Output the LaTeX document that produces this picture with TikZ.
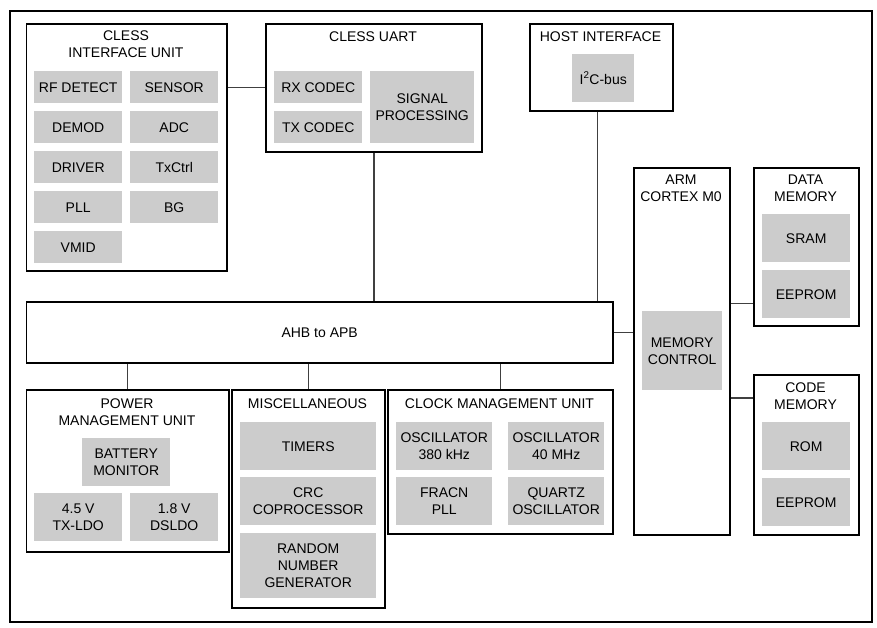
\documentclass[tikz,border=0pt]{standalone}
\usepackage{fontspec}
\setmainfont{Liberation Sans}
\usetikzlibrary{positioning,calc}
\tikzset{
  unit/.style={draw=black, line width=1.8pt, anchor=north west, inner sep=0pt, align=center, font=\fontsize{14}{17}\selectfont},
  cell/.style={fill=black!20, anchor=north west, align=center, inner sep=0pt, font=\fontsize{14}{17}\selectfont},
  title/.style={align=center, inner sep=0pt, font=\fontsize{14}{17}\selectfont},
  link/.style={line width=1.2pt, draw=black!75}
}

\begin{document}
\begin{tikzpicture}[x=1pt, y=-1pt]
    \useasboundingbox (0,0) rectangle (877,627);
    % Outer frame
    \draw[line width=2pt] (9.5,11) rectangle (872,622);

    % CLESS interface unit
    \node[unit, minimum width=200.5, minimum height=247] (iu) at (25.5,23) {};
    \node[title] (iuT) at (126,44.5) {CLESS\\INTERFACE UNIT};
    \node[cell, minimum width=88, minimum height=32] (rf) at (34,71) {RF DETECT};
    \node[cell, minimum width=88, minimum height=32] (sensor) at (130,71) {SENSOR};
    \node[cell, minimum width=88, minimum height=32] (demod) at (34,111) {DEMOD};
    \node[cell, minimum width=88, minimum height=32] (adc) at (130,111) {ADC};
    \node[cell, minimum width=88, minimum height=32] (driver) at (34,151) {DRIVER};
    \node[cell, minimum width=88, minimum height=32] (txctrl) at (130,151) {TxCtrl};
    \node[cell, minimum width=88, minimum height=32] (pll) at (34,191) {PLL};
    \node[cell, minimum width=88, minimum height=32] (bg) at (130,191) {BG};
    \node[cell, minimum width=88, minimum height=32] (vmid) at (34,231) {VMID};

    % CLESS UART
    \node[unit, minimum width=216, minimum height=128] (uart) at (265,23) {};
    \node[title] (uartT) at (373,37) {CLESS UART};
    \node[cell, minimum width=88, minimum height=32] (rx) at (274,71) {RX CODEC};
    \node[cell, minimum width=88, minimum height=32] (tx) at (274,111) {TX CODEC};
    \node[cell, minimum width=104, minimum height=72] (sig) at (370,71) {SIGNAL\\PROCESSING};

    % Host interface
    \node[unit, minimum width=143, minimum height=87] (host) at (529,23) {};
    \node[title] (hostT) at (600.5,37) {HOST INTERFACE};
    \node[cell, minimum width=62, minimum height=48] (i2c) at (572,54) {I\textsuperscript{2}C-bus};

    % Bus bridge
    \node[unit, minimum width=586.5, minimum height=61] (ahb) at (25.5,301) {AHB to APB};

    % ARM core and memories
    \node[unit, minimum width=96, minimum height=367] (arm) at (633,167) {};
    \node[title] (armT) at (681,188) {ARM\\CORTEX M0};
    \node[cell, minimum width=80, minimum height=79] (memctrl) at (642,311) {MEMORY\\CONTROL};
    \node[unit, minimum width=105, minimum height=158] (data) at (753,167) {};
    \node[title] (dataT) at (805.5,188) {DATA\\MEMORY};
    \node[cell, minimum width=88, minimum height=48] (sram) at (762,214) {SRAM};
    \node[cell, minimum width=88, minimum height=48] (deeprom) at (762,270) {EEPROM};
    \node[unit, minimum width=105, minimum height=160] (code) at (753,374) {};
    \node[title] (codeT) at (805.5,396.5) {CODE\\MEMORY};
    \node[cell, minimum width=88, minimum height=48] (rom) at (762,422) {ROM};
    \node[cell, minimum width=88, minimum height=48] (ceeprom) at (762,478) {EEPROM};

    % Power management unit
    \node[unit, minimum width=202.5, minimum height=162] (pmu) at (25.5,389) {};
    \node[title] (pmuT) at (127,412) {POWER\\MANAGEMENT UNIT};
    \node[cell, minimum width=88, minimum height=48] (bat) at (82,438) {BATTERY\\MONITOR};
    \node[cell, minimum width=88, minimum height=48] (txldo) at (34,493) {4.5 V\\TX-LDO};
    \node[cell, minimum width=88, minimum height=48] (dsldo) at (130,493) {1.8 V\\DSLDO};

    % Miscellaneous
    \node[unit, minimum width=153, minimum height=218] (misc) at (231,389) {};
    \node[title] (miscT) at (307.5,404) {MISCELLANEOUS};
    \node[cell, minimum width=136, minimum height=48] (timers) at (240,422) {TIMERS};
    \node[cell, minimum width=136, minimum height=48] (crc) at (240,477) {CRC\\COPROCESSOR};
    \node[cell, minimum width=136, minimum height=65] (rng) at (240,533) {RANDOM\\NUMBER\\GENERATOR};

    % Clock management unit
    \node[unit, minimum width=225, minimum height=144] (cmu) at (387,389) {};
    \node[title] (cmuT) at (499.5,404) {CLOCK MANAGEMENT UNIT};
    \node[cell, minimum width=96, minimum height=48] (osclo) at (396,422) {OSCILLATOR\\380 kHz};
    \node[cell, minimum width=96, minimum height=48] (oschi) at (508,422) {OSCILLATOR\\40 MHz};
    \node[cell, minimum width=96, minimum height=48] (fracn) at (396,477) {FRACN\\PLL};
    \node[cell, minimum width=96, minimum height=48] (quartz) at (508,477) {QUARTZ\\OSCILLATOR};

    % Connections
    \draw[link] (rx.center -| iu.east) -- (rx.center -| uart.west);
    \draw[link] (uart.south) -- (uart.south |- ahb.north);
    \draw[link] ([xshift=-4pt]host.south) -- ([xshift=-4pt]host.south |- ahb.north);
    \draw[link] (ahb.east) -- (ahb.east -| arm.west);
    \draw[link] ([yshift=23pt]data.south west -| arm.east) -- ([yshift=23pt]data.south west);
    \draw[link] ([yshift=-24pt]code.north west -| arm.east) -- ([yshift=-24pt]code.north west);
    \draw[link] (pmu.north) -- (pmu.north |- ahb.south);
    \draw[link] (misc.north) -- (misc.north |- ahb.south);
    \draw[link] (cmu.north) -- (cmu.north |- ahb.south);
\end{tikzpicture}
\end{document}
